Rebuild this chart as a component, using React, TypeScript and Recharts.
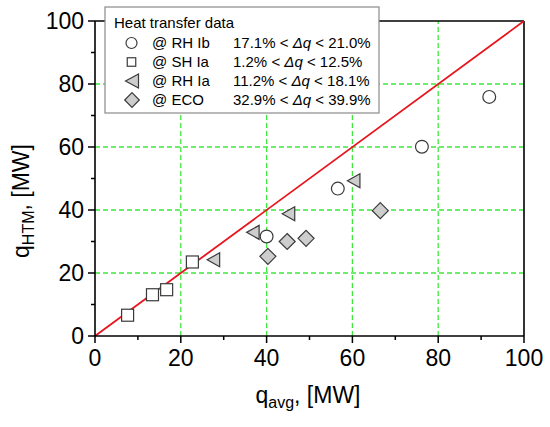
import React from 'react';
import { ScatterChart, Scatter, XAxis, YAxis, ReferenceLine } from 'recharts';

const rhIbX = [40.0, 56.6, 76.2, 91.9];
const rhIbY = [31.6, 46.8, 60.1, 75.9];
const shIaX = [7.6, 13.4, 16.7, 22.7];
const shIaY = [6.6, 13.1, 14.7, 23.5];
const rhIaX = [27.6, 36.8, 45.1, 60.3];
const rhIaY = [24.2, 32.9, 38.8, 49.3];
const ecoX = [40.3, 44.8, 49.2, 66.5];
const ecoY = [25.3, 30.0, 31.0, 39.8];

const axisTicks = [0, 10, 20, 30, 40, 50, 60, 70, 80, 90, 100];
const majorStep = 20;
const gridVals = [20, 40, 60, 80];

const legendTitle = 'Heat transfer data';
const legendNames = ['@ RH Ib', '@ SH Ia', '@ RH Ia', '@ ECO'];
const legendLow = ['17.1%', '1.2%', '11.2%', '32.9%'];
const legendHigh = ['21.0%', '12.5%', '18.1%', '39.9%'];

const zip = (xs: number[], ys: number[]) => xs.map((x, i) => ({ x, y: ys[i] }));
const rhIb = zip(rhIbX, rhIbY);
const shIa = zip(shIaX, shIaY);
const rhIa = zip(rhIaX, rhIaY);
const eco = zip(ecoX, ecoY);

const FONT = '"Liberation Sans", Arial, sans-serif';
const MK = '#3a3a3a';
const GRAYFILL = '#cdcdcd';

const Circle = ({ cx, cy, r = 6.4 }: any) => (
  <circle cx={cx} cy={cy} r={r} fill="#fff" stroke={MK} strokeWidth={1.2} />
);
const Square = ({ cx, cy, s = 12 }: any) => (
  <rect x={cx - s / 2} y={cy - s / 2} width={s} height={s} fill="#fff" stroke={MK} strokeWidth={1.2} />
);
const Tri = ({ cx, cy, w = 12.5, h = 14 }: any) => (
  <polygon
    points={`${cx - w / 2},${cy} ${cx + w / 2},${cy - h / 2} ${cx + w / 2},${cy + h / 2}`}
    fill={GRAYFILL}
    stroke={MK}
    strokeWidth={1.2}
  />
);
const Diamond = ({ cx, cy, d = 8 }: any) => (
  <polygon
    points={`${cx},${cy - d} ${cx + d},${cy} ${cx},${cy + d} ${cx - d},${cy}`}
    fill={GRAYFILL}
    stroke={MK}
    strokeWidth={1.2}
  />
);

const XTick = ({ x, y, payload }: any) => {
  const major = payload.value % majorStep === 0;
  return (
    <g>
      <line x1={x} x2={x} y1={y} y2={y + (major ? 7 : 4)} stroke="#000" strokeWidth={1.5} />
      {major && (
        <text x={x} y={y + 30} textAnchor="middle" fontSize={23} fontFamily={FONT} fill="#000">
          {payload.value}
        </text>
      )}
    </g>
  );
};

const YTick = ({ x, y, payload }: any) => {
  const major = payload.value % majorStep === 0;
  return (
    <g>
      <line x1={x} x2={x - (major ? 7 : 4)} y1={y} y2={y} stroke="#000" strokeWidth={1.5} />
      {major && (
        <text x={x - 11} y={y + 8} textAnchor="end" fontSize={23} fontFamily={FONT} fill="#000">
          {payload.value}
        </text>
      )}
    </g>
  );
};

const Overlay = () => {
  const rowY = [47.5, 66.7, 86, 105];
  const symbols = [
    <Circle cx={131.5} cy={43} r={5.5} />,
    <Square cx={131.5} cy={62} s={8.5} />,
    <Tri cx={132} cy={81} w={13} h={14} />,
    <Diamond cx={132} cy={100} d={7.3} />,
  ];
  return (
    <svg
      width={550}
      height={427}
      style={{ position: 'absolute', left: 0, top: 0, pointerEvents: 'none' }}
    >
      <g fontFamily={FONT}>
        <rect x={105} y={7} width={274} height={106} fill="#fff" stroke="#8a8a8a" strokeWidth={1.2} />
        <text x={114} y={28} fontSize={15} fill="#000">
          {legendTitle}
        </text>
        {legendNames.map((n, i) => (
          <g key={n}>
            {symbols[i]}
            <text x={152} y={rowY[i]} fontSize={15} fill="#000">
              {n}
            </text>
            <text x={233} y={rowY[i]} fontSize={15} fill="#000">
              {legendLow[i]} {'< '}
              <tspan fontStyle="italic">Δq</tspan>
              {' < '}
              {legendHigh[i]}
            </text>
          </g>
        ))}
        <text x={308} y={402.5} textAnchor="middle" fontSize={23} fill="#000">
          q
          <tspan dy={5} fontSize={16}>
            avg
          </tspan>
          <tspan dy={-5}>, [MW]</tspan>
        </text>
        <text x={29} y={201} transform="rotate(-90 29 201)" textAnchor="middle" fontSize={23} fill="#000">
          q
          <tspan dy={5} fontSize={16}>
            HTM
          </tspan>
          <tspan dy={-5}>, [MW]</tspan>
        </text>
      </g>
    </svg>
  );
};

export default function App() {
  return (
    <div style={{ position: 'absolute', left: 0, top: 0, width: 550, height: 427, background: '#fff' }}>
      <ScatterChart width={550} height={427} margin={{ top: 21, right: 26, bottom: 31, left: 35 }}>
        <XAxis
          type="number"
          dataKey="x"
          domain={[0, 100]}
          ticks={axisTicks}
          interval={0}
          height={60}
          tickSize={0}
          tickMargin={0}
          tickLine={false}
          tick={<XTick />}
          axisLine={{ stroke: '#000', strokeWidth: 1.6 }}
          allowDataOverflow
        />
        <YAxis
          type="number"
          dataKey="y"
          domain={[0, 100]}
          ticks={axisTicks}
          interval={0}
          width={60}
          tickSize={0}
          tickMargin={0}
          tickLine={false}
          tick={<YTick />}
          axisLine={{ stroke: '#000', strokeWidth: 1.6 }}
          allowDataOverflow
        />
        {gridVals.map((v) => (
          <ReferenceLine key={'gx' + v} x={v} stroke="#3ee83e" strokeWidth={1.3} strokeDasharray="5 3" />
        ))}
        {gridVals.map((v) => (
          <ReferenceLine key={'gy' + v} y={v} stroke="#3ee83e" strokeWidth={1.3} strokeDasharray="5 3" />
        ))}
        <ReferenceLine y={100} stroke="#000" strokeWidth={1.6} />
        <ReferenceLine x={100} stroke="#000" strokeWidth={1.6} />
        <ReferenceLine
          segment={[
            { x: 0, y: 0 },
            { x: 100, y: 100 },
          ]}
          stroke="#e8141c"
          strokeWidth={1.8}
        />
        <Scatter data={shIa} shape={(p: any) => <Square cx={p.cx} cy={p.cy} />} isAnimationActive={false} />
        <Scatter data={rhIa} shape={(p: any) => <Tri cx={p.cx} cy={p.cy} />} isAnimationActive={false} />
        <Scatter data={eco} shape={(p: any) => <Diamond cx={p.cx} cy={p.cy} />} isAnimationActive={false} />
        <Scatter data={rhIb} shape={(p: any) => <Circle cx={p.cx} cy={p.cy} />} isAnimationActive={false} />
      </ScatterChart>
      <Overlay />
    </div>
  );
}
